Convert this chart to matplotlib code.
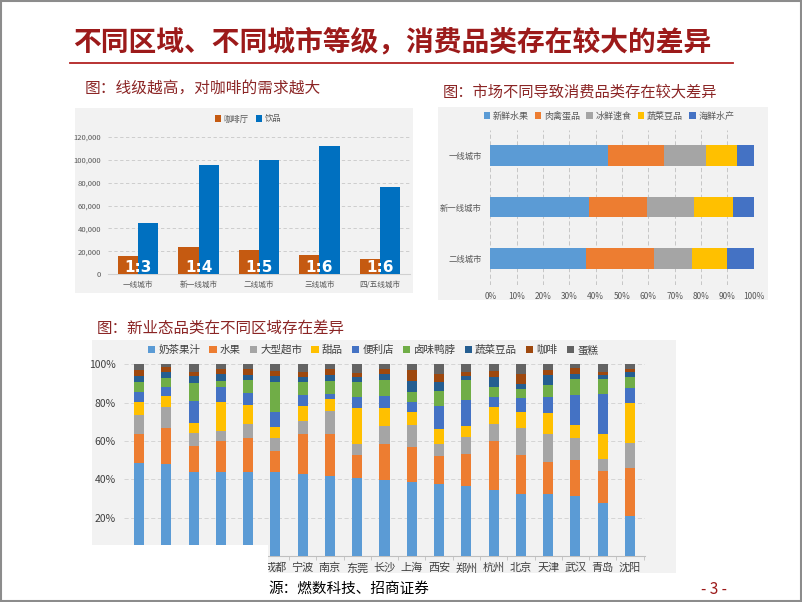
import numpy as np
import matplotlib
matplotlib.use("Agg")
import matplotlib.pyplot as plt
from matplotlib.patches import Rectangle
from matplotlib.lines import Line2D

plt.rcParams['font.family'] = ['Noto Sans CJK SC', 'DejaVu Sans']

W, H = 802, 602

# ---- data: chart 1 (coffee vs drinks by city tier)
tiers = ['一线城市', '新一线城市', '二线城市', '三线城市', '四/五线城市']
coffee_shops = [16000, 24000, 21000, 17000, 13000]
drinks = [45000, 95000, 100000, 112000, 76000]
ratios = ['1:3', '1:4', '1:5', '1:6', '1:6']

# ---- data: chart 2 (category share by tier, %)
tiers2 = ['一线城市', '新一线城市', '二线城市']
cats2 = ['新鲜水果', '肉禽蛋品', '冰鲜速食', '蔬菜豆品', '海鲜水产']
fresh_fruit = [44.7, 37.3, 36.5]
meat_egg = [21.2, 22.2, 25.7]
frozen_food = [16.1, 17.7, 14.5]
veg_bean = [11.7, 15.0, 13.2]
seafood = [6.3, 7.8, 10.1]

# ---- data: chart 3 (new retail categories by city, %)
cities = ['', '', '', '', '', '成都', '宁波', '南京', '东莞', '长沙', '上海', '西安',
          '郑州', '杭州', '北京', '天津', '武汉', '青岛', '沈阳']
cats3 = ['奶茶果汁', '水果', '大型超市', '甜品', '便利店', '卤味鸭脖', '蔬菜豆品', '咖啡', '蛋糕']
milk_tea = [48.7, 47.8, 43.8, 43.8, 43.8, 43.8, 43.0, 41.6, 40.5, 39.7, 38.6, 37.6, 36.5, 34.3, 32.3, 32.3, 31.1, 27.8, 20.7]
fruit = [15.0, 19.1, 13.6, 16.4, 17.8, 10.8, 20.5, 22.2, 12.2, 18.7, 18.1, 14.7, 16.5, 25.5, 20.4, 16.7, 18.8, 16.4, 25.2]
supermarket = [9.9, 10.8, 6.8, 5.2, 7.1, 6.8, 6.9, 11.7, 5.6, 9.6, 11.5, 6.0, 9.3, 8.9, 14.1, 14.5, 11.8, 6.6, 13.2]
dessert = [6.9, 5.6, 5.2, 15.1, 10.3, 6.1, 8.0, 6.4, 18.9, 9.4, 6.9, 8.0, 5.5, 9.2, 8.2, 10.9, 6.6, 12.7, 20.9]
convenience = [4.9, 4.9, 11.3, 7.8, 5.9, 7.8, 5.6, 2.6, 5.6, 6.3, 5.2, 11.8, 13.8, 5.1, 7.6, 8.4, 15.9, 21.0, 7.5]
braised = [5.2, 4.9, 9.7, 3.2, 7.1, 15.5, 7.0, 6.8, 7.8, 8.3, 5.3, 7.8, 10.4, 5.0, 4.4, 6.6, 8.3, 7.7, 6.1]
veg = [3.3, 2.8, 3.5, 3.3, 2.4, 3.3, 2.2, 3.1, 2.8, 3.0, 5.7, 4.7, 2.1, 5.2, 2.7, 5.0, 2.5, 2.1, 2.2]
coffee = [3.1, 2.6, 2.1, 2.9, 3.0, 2.4, 3.0, 3.0, 2.3, 2.4, 5.6, 4.2, 2.1, 3.3, 5.3, 2.8, 2.9, 1.9, 1.6]
cake = [3.0, 1.6, 4.0, 2.3, 2.6, 3.5, 3.8, 2.6, 4.3, 2.6, 3.1, 5.2, 3.8, 3.5, 5.0, 2.8, 2.1, 3.8, 2.6]


def box(x0, y0, x1, y1):
    # pixel box (top-left origin) -> figure fraction rect
    return [x0 / W, 1 - y1 / H, (x1 - x0) / W, (y1 - y0) / H]


def fx(x):
    return x / W


def fy(y):
    return 1 - y / H


def panel(x0, y0, x1, y1, color='#F2F2F2', z=0):
    fig.add_artist(Rectangle((fx(x0), fy(y1)), (x1 - x0) / W, (y1 - y0) / H,
                             transform=fig.transFigure, facecolor=color,
                             edgecolor='none', zorder=z))


fig = plt.figure(figsize=(W / 100, H / 100), dpi=100)
fig.patch.set_facecolor('white')

title_red = '#9C1A1A'
sub_red = '#8B2525'
tick_col = '#595959'

# slide frame
fig.add_artist(Rectangle((0.001, 0.001), 0.998, 0.997, transform=fig.transFigure,
                         facecolor='none', edgecolor='#8C8C8C', lw=1.5, zorder=20))

# main title + rule
fig.text(fx(73), fy(42), '不同区域、不同城市等级，消费品类存在较大的差异', fontsize=20,
         fontweight='bold', color=title_red, ha='left', va='center')
fig.add_artist(Line2D([fx(70), fx(733)], [fy(63), fy(63)], color='#B22222', lw=1.3))

# ---------------- chart 1
fig.text(fx(85), fy(88), '图：线级越高，对咖啡的需求越大', fontsize=11.3, color=sub_red,
         ha='left', va='center')
panel(75, 108, 413, 293)
ax1 = fig.add_axes(box(108, 136.7, 410, 274.3))
ax1.set_facecolor('none')
x = np.arange(len(tiers))
bw = 0.333
ax1.bar(x - bw / 2, coffee_shops, bw, color='#C55A11', label='咖啡厅', zorder=3)
ax1.bar(x + bw / 2, drinks, bw, color='#0070C0', label='饮品', zorder=3)
for i, r in enumerate(ratios):
    ax1.text(x[i], 6000, r, color='white', fontsize=11, fontweight='bold',
             ha='center', va='center', family=['DejaVu Sans'], zorder=4)
ax1.set_ylim(0, 120000)
ax1.set_xlim(-0.5, len(tiers) - 0.5)
ax1.set_yticks(np.arange(0, 120001, 20000))
ax1.set_yticklabels([f'{v:,}' for v in range(0, 120001, 20000)])
ax1.set_xticks(x)
ax1.set_xticklabels(tiers)
ax1.tick_params(axis='both', labelsize=5.5, colors=tick_col, length=0, pad=5)
ax1.yaxis.grid(True, color='#C8C8C8', ls=(0, (4, 3)), lw=0.6, zorder=0)
for s in ['top', 'right', 'left']:
    ax1.spines[s].set_visible(False)
ax1.spines['bottom'].set_color('#D0D0D0')
ax1.legend(loc='center', bbox_to_anchor=(fx(248), fy(119)), bbox_transform=fig.transFigure,
           ncol=2, frameon=False, fontsize=6, handlelength=0.8, handleheight=0.8,
           handletextpad=0.3, columnspacing=0.8, labelcolor=tick_col)

# ---------------- chart 2
fig.text(fx(443), fy(92), '图：市场不同导致消费品类存在较大差异', fontsize=11, color=sub_red,
         ha='left', va='center')
panel(438, 107, 768, 300)
ax2 = fig.add_axes(box(490.3, 130, 753.7, 285))
ax2.set_facecolor('none')
y2 = np.arange(len(tiers2))
colors2 = ['#5B9BD5', '#ED7D31', '#A5A5A5', '#FFC000', '#4472C4']
left = np.zeros(len(tiers2))
for name, vals, c in zip(cats2, [fresh_fruit, meat_egg, frozen_food, veg_bean, seafood], colors2):
    ax2.barh(y2, vals, 0.4, left=left, color=c, label=name, zorder=3)
    left += np.array(vals)
ax2.set_xlim(0, 100)
ax2.set_ylim(2.52, -0.5)
ax2.set_xticks(np.arange(0, 101, 10))
ax2.set_xticklabels([f'{v}%' for v in range(0, 101, 10)])
ax2.set_yticks(y2)
ax2.set_yticklabels(tiers2)
ax2.tick_params(axis='both', labelsize=6, colors=tick_col, length=0)
ax2.tick_params(axis='x', pad=5)
ax2.tick_params(axis='y', pad=6)
ax2.xaxis.grid(True, color='#BFBFBF', ls=(0, (5, 3)), lw=0.6, zorder=0)
for s in ax2.spines.values():
    s.set_visible(False)
ax2.legend(loc='center', bbox_to_anchor=(fx(609), fy(116)), bbox_transform=fig.transFigure,
           ncol=5, frameon=False, fontsize=6.5, handlelength=0.7, handleheight=0.7,
           handletextpad=0.3, columnspacing=0.7, labelcolor=tick_col)

# ---------------- chart 3
fig.text(fx(97), fy(328), '图：新业态品类在不同区域存在差异', fontsize=11.2, color=sub_red,
         ha='left', va='center')
panel(92, 340, 676, 573)
ax3 = fig.add_axes(box(124, 364.3, 645, 556))
ax3.set_facecolor('none')
x3 = np.arange(len(cities))
colors3 = ['#5B9BD5', '#ED7D31', '#A5A5A5', '#FFC000', '#4472C4', '#70AD47',
           '#255E91', '#9E480E', '#636363']
series3 = [milk_tea, fruit, supermarket, dessert, convenience, braised, veg, coffee, cake]
bottom = np.zeros(len(cities))
for name, vals, c in zip(cats3, series3, colors3):
    ax3.bar(x3, vals, 0.37, bottom=bottom, color=c, label=name, zorder=3)
    bottom += np.array(vals)
ax3.set_xlim(-0.55, len(cities) - 0.45)
ax3.set_ylim(0, 100)
ax3.set_yticks(np.arange(0, 101, 20))
ax3.set_yticklabels([f'{v}%' for v in range(0, 101, 20)])
ax3.set_xticks(x3)
ax3.set_xticklabels(cities)
ax3.set_xticks(np.arange(-0.5, len(cities), 1), minor=True)
ax3.tick_params(axis='x', which='minor', length=3, color='#BFBFBF')
ax3.tick_params(axis='x', which='major', length=0, labelsize=8, colors='#404040', pad=5)
ax3.tick_params(axis='y', length=0, labelsize=7.5, colors='#404040', pad=6)
ax3.yaxis.grid(True, color='#D0D0D0', ls=(0, (5, 3)), lw=0.6, zorder=0)
for s in ['top', 'right', 'left']:
    ax3.spines[s].set_visible(False)
ax3.spines['bottom'].set_color('#BFBFBF')
ax3.legend(loc='center', bbox_to_anchor=(fx(373), fy(350)), bbox_transform=fig.transFigure,
           ncol=9, frameon=False, fontsize=7.6, handlelength=0.7, handleheight=0.7,
           handletextpad=0.3, columnspacing=0.85, labelcolor='#404040')

# the left part of this chart is a cropped paste: blank out below it
panel(80, 545, 268, 580, color='white', z=10)

# footer
fig.text(fx(268), fy(589), '源：燃数科技、招商证券', fontsize=10.5, color='black',
         ha='left', va='center')
fig.text(fx(714), fy(589), '- 3 -', fontsize=11, color=title_red, ha='center', va='center')

fig.savefig('out.png', dpi=100)
